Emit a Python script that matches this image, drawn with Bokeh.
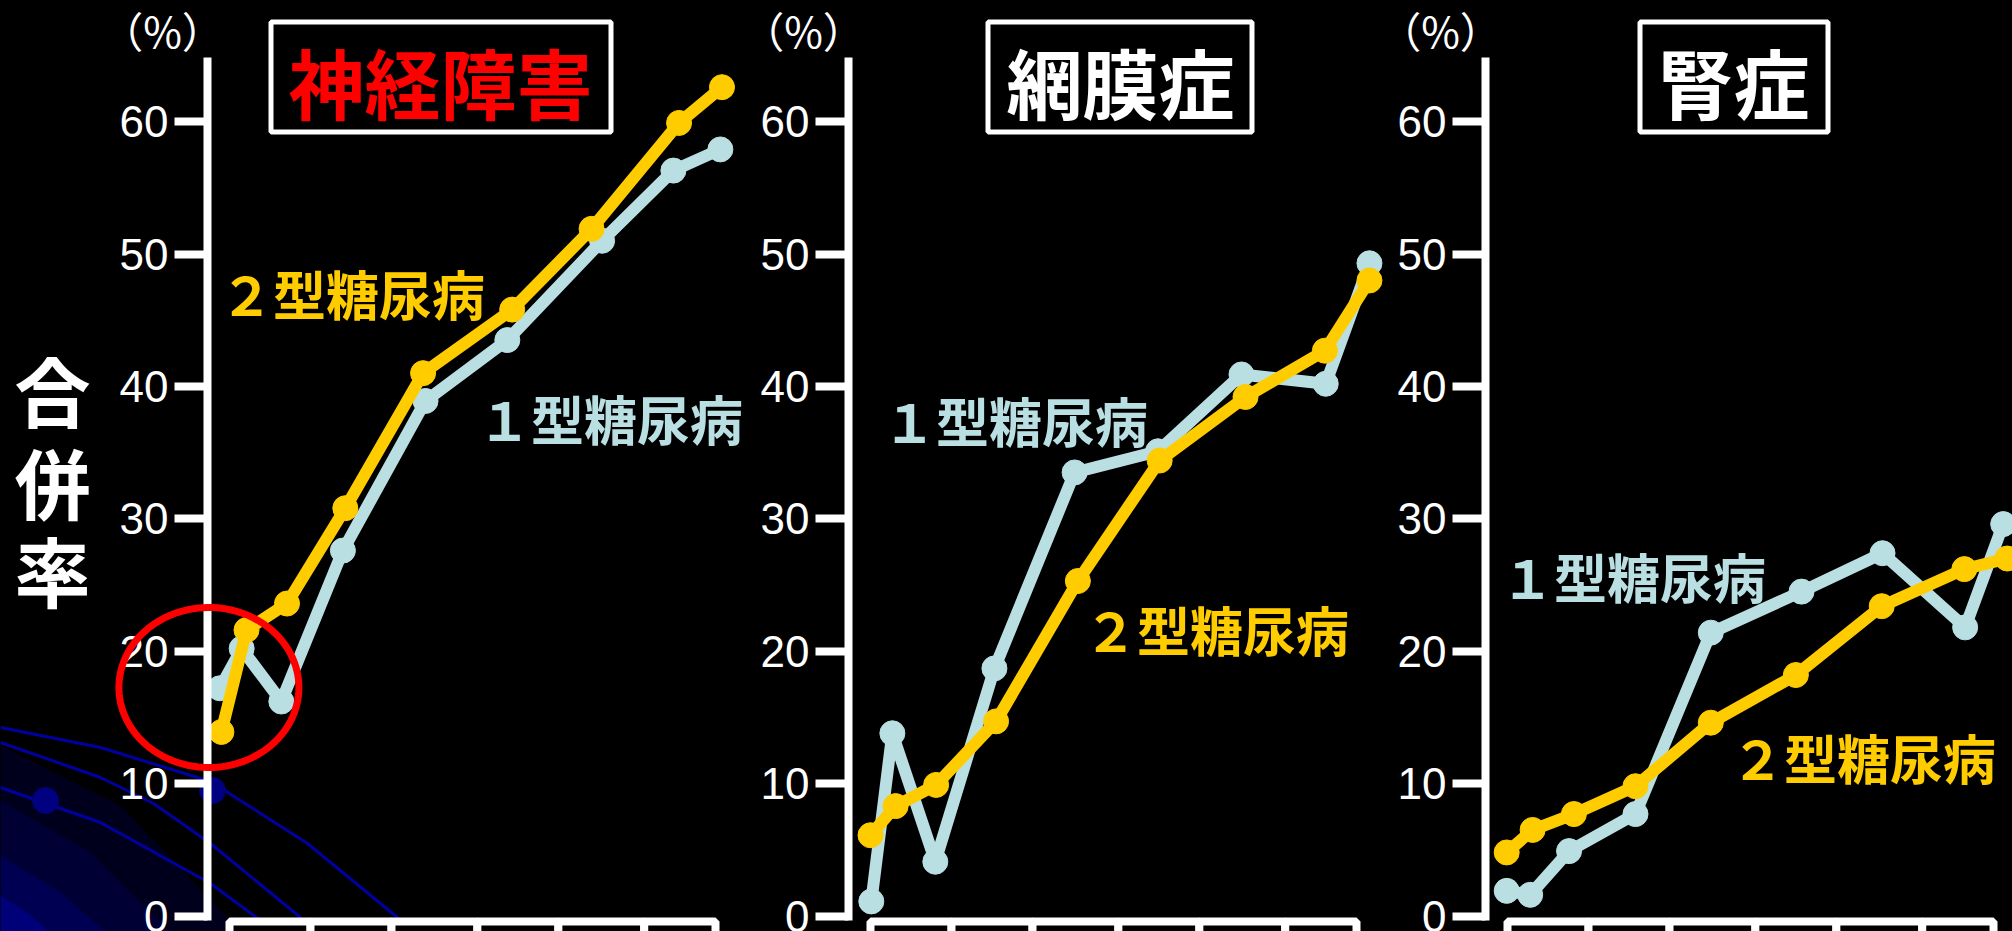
import numpy as np
from bokeh.plotting import figure
from bokeh.layouts import row
from bokeh.models import Range1d, FixedTicker, Label, BoxAnnotation, PolyAnnotation
from bokeh.embed import file_html
from bokeh.resources import INLINE

# ---------------- data ----------------
y_ticks = [0, 10, 20, 30, 40, 50, 60]
panel_titles = ["神経障害", "網膜症", "腎症"]
series_names = ["１型糖尿病", "２型糖尿病"]
y_unit = "（%）"
y_title = ["合", "併", "率"]
table_cells = [0, 1, 2, 3.06, 4.06, 5.12, 6.0]   # x-axis table cell edges

neuro_x_t1 = [-0.12, 0.15, 0.64, 1.40, 2.42, 3.43, 4.60, 5.48, 6.06]
neuro_y_t1 = [17.2, 20.2, 16.2, 27.6, 38.9, 43.5, 51.0, 56.3, 57.9]
neuro_x_t2 = [-0.10, 0.21, 0.71, 1.43, 2.39, 3.49, 4.47, 5.55, 6.08]
neuro_y_t2 = [13.9, 21.6, 23.6, 30.8, 41.0, 45.8, 51.9, 59.9, 62.6]

retino_x_t1 = [0.01, 0.27, 0.80, 1.53, 2.52, 3.55, 4.58, 5.62, 6.16]
retino_y_t1 = [1.1, 13.8, 4.1, 18.7, 33.5, 35.1, 40.9, 40.2, 49.3]
retino_x_t2 = [0.00, 0.31, 0.81, 1.55, 2.56, 3.57, 4.63, 5.61, 6.16]
retino_y_t2 = [6.1, 8.3, 9.9, 14.7, 25.3, 34.4, 39.2, 42.7, 48.0]

nephro_x_t1 = [-0.01, 0.28, 0.76, 1.58, 2.51, 3.63, 4.63, 5.65, 6.12]
nephro_y_t1 = [1.9, 1.6, 4.9, 7.7, 21.4, 24.5, 27.4, 21.8, 29.6]
nephro_x_t2 = [-0.01, 0.31, 0.82, 1.58, 2.51, 3.56, 4.62, 5.64, 6.17]
nephro_y_t2 = [4.8, 6.5, 7.7, 9.8, 14.6, 18.2, 23.4, 26.2, 27.0]

panels = [
    (neuro_x_t1, neuro_y_t1, neuro_x_t2, neuro_y_t2),
    (retino_x_t1, retino_y_t1, retino_x_t2, retino_y_t2),
    (nephro_x_t1, nephro_y_t1, nephro_x_t2, nephro_y_t2),
]

# ---------------- styling / layout ----------------
C_T1 = "#B9DFE3"
C_T2 = "#FFCC00"
CJK = "Noto Sans CJK JP"
NUM_FONT = "Liberation Sans Narrow, Liberation Sans"

PXX = 81.0      # px per x unit
PXY = 13.24     # px per y unit
Y0 = 915.5      # page y of value 0
H = 931

# (figure left, figure right, axis x) in page pixels
specs = [(0, 760, 207), (760, 1395, 848), (1395, 2012, 1485)]

title_boxes = [(270.5, 610.5, 440, "#FF0000"), (987.5, 1251.5, 1120, "white"),
               (1639.5, 1827.5, 1733, "white")]
# label centers (page px): type1, type2
label_pos = [((610, 417), (352, 292)),
             ((1015, 419), (1216, 628)),
             ((1633, 575), (1863, 756))]

# slide-template background decoration (page px), panel 1 only
deco_arcs = [
    [(0, 727), (100, 747), (210, 781), (307, 843), (397, 917), (415, 931)],
    [(0, 742), (100, 777), (153, 803), (210, 843), (300, 917), (312, 931)],
    [(0, 787), (100, 822), (210, 883), (275, 931)],
]
deco_glow = [
    ("#00001C", [(0, 745), (120, 805), (240, 931), (0, 931)]),
    ("#000034", [(0, 800), (90, 852), (170, 931), (0, 931)]),
    ("#000052", [(0, 855), (60, 892), (105, 931), (0, 931)]),
    ("#000078", [(0, 895), (28, 913), (48, 931), (0, 931)]),
]
deco_dots = [(45, 800), (212, 790)]


def vy(py):
    return (Y0 - py) / PXY


figs = []
for i, ((fl, fr, ax), (x1, y1, x2, y2)) in enumerate(zip(specs, panels)):
    w = fr - fl

    def ux(px, ax=ax):
        return (px - ax - 22.0) / PXX

    p = figure(width=w, height=H, output_backend="svg", toolbar_location=None,
               x_range=Range1d(ux(fl), ux(fr)),
               y_range=Range1d(vy(H), vy(0)),
               x_axis_location=None, title=None,
               min_border_left=0, min_border_right=0,
               min_border_top=0, min_border_bottom=0,
               styles={"background-color": "black"})
    p.background_fill_color = "black"
    p.border_fill_color = "black"
    p.outline_line_color = None
    p.grid.visible = False

    yaxis = p.yaxis[0]
    yaxis.fixed_location = ux(ax)
    yaxis.ticker = FixedTicker(ticks=y_ticks)
    yaxis.bounds = (vy(920), vy(57))
    yaxis.axis_line_color = "white"
    yaxis.axis_line_width = 8
    yaxis.major_tick_line_color = "white"
    yaxis.major_tick_line_width = 8
    yaxis.major_tick_out = 33
    yaxis.major_tick_in = 0
    yaxis.minor_tick_line_color = None
    yaxis.major_label_text_color = "white"
    yaxis.major_label_text_font = NUM_FONT
    yaxis.major_label_text_font_size = "44px"
    yaxis.major_label_standoff = 6

    if i == 0:
        for col, pts in deco_glow:
            p.patch([ux(a) for a, b in pts], [vy(b) for a, b in pts],
                    fill_color=col, line_color=None, level="underlay")
        for pts in deco_arcs:
            p.line([ux(a) for a, b in pts], [vy(b) for a, b in pts],
                   line_color="#0000A0", line_width=3, level="underlay")
        p.scatter([ux(a) for a, b in deco_dots], [vy(b) for a, b in deco_dots],
                  size=26, color="#000080", level="underlay")

    # x-axis table cells (cut off at the bottom)
    p.quad(left=table_cells[:-1], right=table_cells[1:],
           top=[vy(921)] * (len(table_cells) - 1), bottom=[-5] * (len(table_cells) - 1),
           fill_color="black", line_color="white", line_width=8)

    # series
    p.line(x1, y1, line_color=C_T1, line_width=12, line_join="round")
    p.scatter(x1, y1, size=25, color=C_T1)
    p.line(x2, y2, line_color=C_T2, line_width=12, line_join="round")
    p.scatter(x2, y2, size=25, color=C_T2)

    # unit label
    p.add_layout(Label(x=ux(ax - 45), y=vy(29), text=y_unit, text_align="center",
                       text_baseline="middle", text_color="white", text_font=CJK,
                       text_font_size="42px"))

    # title box
    bl, br, bc, tcol = title_boxes[i]
    p.add_layout(BoxAnnotation(left=ux(bl), right=ux(br), top=vy(21.5), bottom=vy(131.5),
                               fill_color="black", fill_alpha=1.0,
                               line_color="white", line_alpha=1.0, line_width=5))
    p.add_layout(Label(x=ux(bc), y=vy(80), text=panel_titles[i], text_align="center",
                       text_baseline="middle", text_color=tcol, text_font=CJK,
                       text_font_style="bold", text_font_size="76px"))

    # series labels
    (l1x, l1y), (l2x, l2y) = label_pos[i]
    p.add_layout(Label(x=ux(l1x), y=vy(l1y), text=series_names[0], text_align="center",
                       text_baseline="middle", text_color=C_T1, text_font=CJK,
                       text_font_style="bold", text_font_size="53px"))
    p.add_layout(Label(x=ux(l2x), y=vy(l2y), text=series_names[1], text_align="center",
                       text_baseline="middle", text_color=C_T2, text_font=CJK,
                       text_font_style="bold", text_font_size="53px"))

    if i == 0:
        for ch, cy in zip(y_title, [388, 480, 568]):
            p.add_layout(Label(x=ux(52), y=vy(cy), text=ch, text_align="center",
                               text_baseline="middle", text_color="white", text_font=CJK,
                               text_font_style="bold", text_font_size="76px"))
        t = np.linspace(0, 2 * np.pi, 120)
        ex = (ux(208.4) + (90 / PXX) * np.cos(t)).tolist()
        ey = (vy(687) + (80 / PXY) * np.sin(t)).tolist()
        p.add_layout(PolyAnnotation(xs=ex, ys=ey, fill_color=None, fill_alpha=0,
                                    line_color="#FF0000", line_alpha=1.0, line_width=7))
    figs.append(p)

layout = row(*figs, spacing=0, styles={"background-color": "black"})
open("out.html", "w").write(file_html(layout, INLINE))
